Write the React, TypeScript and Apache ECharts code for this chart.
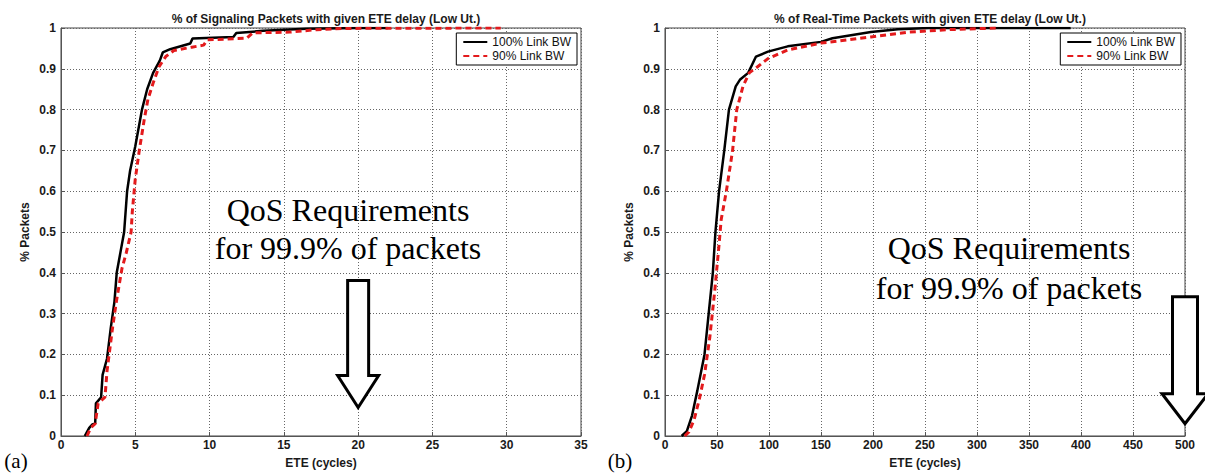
import React, { useEffect, useRef } from "react";
import * as echarts from "echarts";

// ---- data ----
const leftTitle = "% of Signaling Packets with given ETE delay (Low Ut.)";
const rightTitle = "% of Real-Time Packets with given ETE delay (Low Ut.)";
const seriesNames = ["100% Link BW", "90% Link BW"];
const yTicks = { min: 0, max: 1, interval: 0.1 };
const leftXTicks = { min: 0, max: 35, interval: 5 };
const rightXTicks = { min: 0, max: 500, interval: 50 };

const sigFull: [number, number][] = [
  [1.6, 0], [1.9, 0.02], [2.1, 0.028], [2.3, 0.03], [2.35, 0.08], [2.7, 0.095], [2.8, 0.15],
  [3.1, 0.19], [3.35, 0.265], [3.6, 0.33], [3.75, 0.4], [4.0, 0.45], [4.25, 0.5], [4.45, 0.6],
  [4.65, 0.65], [5.0, 0.71], [5.2, 0.75], [5.45, 0.8], [5.8, 0.85], [6.2, 0.89], [6.65, 0.92],
  [6.85, 0.94], [7.35, 0.948], [8.7, 0.962], [8.85, 0.974], [11.6, 0.978], [11.8, 0.988],
  [13.6, 0.993], [16.5, 0.998], [20, 1], [22, 1],
];
const sig90: [number, number][] = [
  [1.75, 0], [2.0, 0.02], [2.3, 0.03], [2.5, 0.08], [2.96, 0.095], [3.1, 0.16], [3.47, 0.265],
  [3.73, 0.33], [4.1, 0.41], [4.4, 0.45], [4.72, 0.5], [4.8, 0.55], [5.0, 0.63], [5.27, 0.7],
  [5.6, 0.775], [5.85, 0.825], [6.2, 0.865], [6.6, 0.905], [7.05, 0.93], [7.6, 0.945],
  [8.8, 0.953], [9.6, 0.958], [9.85, 0.971], [12.5, 0.975], [12.9, 0.988], [15.4, 0.99],
  [17.2, 0.996], [19, 0.999], [29.6, 1],
];
const rtFull: [number, number][] = [
  [16, 0], [21, 0.012], [26, 0.05], [31, 0.11], [38, 0.2], [42, 0.3], [46, 0.4], [48.5, 0.5],
  [52, 0.6], [57, 0.7], [61.5, 0.8], [68, 0.857], [72, 0.873], [80, 0.89], [87.5, 0.93],
  [99, 0.942], [118, 0.955], [150, 0.966], [161, 0.975], [198, 0.99], [224, 0.997], [254, 1],
  [390, 1],
];
const rt90: [number, number][] = [
  [19, 0], [23, 0.01], [28, 0.04], [33, 0.09], [38, 0.15], [43, 0.24], [48, 0.36], [52, 0.47],
  [54, 0.53], [59, 0.6], [65, 0.7], [69, 0.8], [75, 0.857], [81, 0.89], [89, 0.905], [99, 0.925],
  [118, 0.946], [150, 0.963], [198, 0.978], [235, 0.99], [272, 0.996], [309, 0.999], [320, 1],
];
// arrow tips (data coordinates)
const leftArrowTip: [number, number] = [20, 0.07];
const rightArrowTip: [number, number] = [500, 0.03];

const SANS = "Liberation Sans, Arial, sans-serif";
const SERIF = "Liberation Serif, Times New Roman, serif";
const TXT = "#1a1a1a";

function arrowPoints(tip: number[], shaftHalf: number, headHalf: number, headLen: number, total: number) {
  const [x, y] = tip;
  return [
    [x - shaftHalf, y - total],
    [x + shaftHalf, y - total],
    [x + shaftHalf, y - headLen],
    [x + headHalf, y - headLen],
    [x, y],
    [x - headHalf, y - headLen],
    [x - shaftHalf, y - headLen],
  ];
}

export default function App() {
  const ref = useRef<HTMLDivElement>(null);
  useEffect(() => {
    if (!ref.current) return;
    const chart = echarts.init(ref.current, undefined, { renderer: "svg" });
    const grids = [
      { left: 61, top: 28, width: 520, height: 411 },
      { left: 665, top: 28, width: 520, height: 411 },
    ];
    const xAx = (i: number, t: { min: number; max: number; interval: number }) => ({
      type: "value",
      gridIndex: i,
      min: t.min,
      max: t.max,
      interval: t.interval,
      name: "ETE (cycles)",
      nameLocation: "middle",
      nameGap: 21,
      nameTextStyle: { fontFamily: SANS, fontSize: 12, fontWeight: "bold", color: TXT },
      axisLine: { show: true, lineStyle: { color: "#555", width: 1 } },
      axisTick: { show: true, inside: true, length: 4, lineStyle: { color: "#555" } },
      axisLabel: { margin: 3, fontFamily: SANS, fontSize: 12, fontWeight: "bold", color: TXT },
      splitLine: { show: true, lineStyle: { color: "#666", type: [1, 2], width: 1 } },
    });
    const yAx = (i: number) => ({
      type: "value",
      gridIndex: i,
      min: yTicks.min,
      max: yTicks.max,
      interval: yTicks.interval,
      name: "% Packets",
      nameLocation: "middle",
      nameGap: 30,
      nameTextStyle: { fontFamily: SANS, fontSize: 12, fontWeight: "bold", color: TXT },
      axisLine: { show: true, lineStyle: { color: "#555", width: 1 } },
      axisTick: { show: true, inside: true, length: 4, lineStyle: { color: "#555" } },
      axisLabel: { margin: 5, fontFamily: SANS, fontSize: 12, fontWeight: "bold", color: TXT },
      splitLine: { show: true, lineStyle: { color: "#666", type: [1, 2], width: 1 } },
    });
    const solid = { color: "#000", width: 2.5, type: "solid" };
    const dashed = { color: "#e31a1c", width: 3, type: [6, 4] };
    const legend = (right: number) => ({
      right,
      top: 33,
      orient: "vertical",
      data: seriesNames,
      backgroundColor: "#fff",
      borderColor: "#000",
      borderWidth: 1,
      borderRadius: 0,
      padding: [3, 6, 3, 6],
      itemGap: 2,
      itemWidth: 24,
      itemHeight: 12,
      selectedMode: false,
      itemStyle: { color: "rgba(0,0,0,0)", borderColor: "rgba(0,0,0,0)", borderWidth: 0 },
      textStyle: { fontFamily: SANS, fontSize: 12, color: "#111" },
    });
    chart.setOption({
      animation: false,
      backgroundColor: "#fff",
      title: [
        {
          text: leftTitle,
          left: 321,
          top: 8,
          textAlign: "center",
          textStyle: { fontFamily: SANS, fontSize: 12, fontWeight: "bold", color: TXT },
        },
        {
          text: rightTitle,
          left: 925,
          top: 8,
          textAlign: "center",
          textStyle: { fontFamily: SANS, fontSize: 12, fontWeight: "bold", color: TXT },
        },
      ],
      legend: [legend(628), legend(24)],
      grid: grids.map((g) => ({ ...g, show: true, borderColor: "#444", borderWidth: 1, backgroundColor: "#fff" })),
      xAxis: [xAx(0, leftXTicks), xAx(1, rightXTicks)],
      yAxis: [yAx(0), yAx(1)],
      series: [
        { name: seriesNames[0], type: "line", xAxisIndex: 0, yAxisIndex: 0, data: sigFull, symbol: "none", lineStyle: solid, itemStyle: { color: "#000" } },
        { name: seriesNames[1], type: "line", xAxisIndex: 0, yAxisIndex: 0, data: sig90, symbol: "none", lineStyle: dashed, itemStyle: { color: "#e31a1c" } },
        { name: seriesNames[0], type: "line", xAxisIndex: 1, yAxisIndex: 1, data: rtFull, symbol: "none", lineStyle: solid, itemStyle: { color: "#000" } },
        { name: seriesNames[1], type: "line", xAxisIndex: 1, yAxisIndex: 1, data: rt90, symbol: "none", lineStyle: dashed, itemStyle: { color: "#e31a1c" } },
      ],
    });
    const lt = chart.convertToPixel({ gridIndex: 0 }, leftArrowTip) as number[];
    const rt = chart.convertToPixel({ gridIndex: 1 }, rightArrowTip) as number[];
    const qos = (x: number, y: number, text: string) => ({
      type: "text",
      x,
      y,
      z: 100,
      style: { text, fontFamily: SERIF, fontSize: 32, fill: "#000", align: "center", verticalAlign: "middle" },
    });
    chart.setOption({
      graphic: [
        qos(348, 210, "QoS Requirements"),
        qos(348, 248, "for 99.9% of packets"),
        qos(1009, 248, "QoS Requirements"),
        qos(1009, 288, "for 99.9% of packets"),
        {
          type: "polygon",
          z: 100,
          shape: { points: arrowPoints(lt, 10.5, 20.5, 32, 127) },
          style: { fill: "#fff", stroke: "#000", lineWidth: 3, lineJoin: "miter" },
        },
        {
          type: "polygon",
          z: 100,
          shape: { points: arrowPoints(rt, 12.5, 23, 30, 127) },
          style: { fill: "#fff", stroke: "#000", lineWidth: 3, lineJoin: "miter" },
        },
        {
          type: "text", x: 16, y: 461, z: 100,
          style: { text: "(a)", fontFamily: SERIF, fontSize: 21, fill: "#000", align: "center", verticalAlign: "middle" },
        },
        {
          type: "text", x: 620, y: 461, z: 100,
          style: { text: "(b)", fontFamily: SERIF, fontSize: 21, fill: "#000", align: "center", verticalAlign: "middle" },
        },
      ],
    });
    return () => chart.dispose();
  }, []);
  return (
    <div
      ref={ref}
      style={{ position: "fixed", left: 0, top: 0, width: 1205, height: 474, background: "#fff" }}
    />
  );
}
